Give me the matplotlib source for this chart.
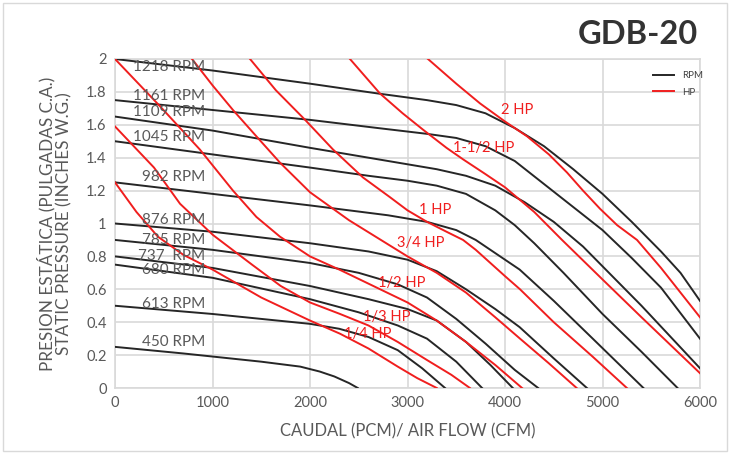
import matplotlib
matplotlib.use("Agg")
import matplotlib.pyplot as plt
from matplotlib.patches import Rectangle

plt.rcParams['font.family'] = ['Lato', 'DejaVu Sans']

# RPM curves (black): airflow CFM / static pressure in. w.g.
rpm_1218_x = [0, 1000, 2000, 2700, 3200, 3500, 3800, 4100, 4400, 4700, 5000, 5300, 5600, 5800, 6000]
rpm_1218_y = [2.00, 1.93, 1.85, 1.79, 1.75, 1.72, 1.67, 1.58, 1.47, 1.33, 1.18, 1.01, 0.83, 0.70, 0.53]
rpm_1161_x = [0, 1000, 2000, 2700, 3200, 3500, 3800, 4100, 4400, 4700, 5000, 5300, 5600, 6000]
rpm_1161_y = [1.75, 1.69, 1.63, 1.58, 1.545, 1.52, 1.47, 1.38, 1.24, 1.10, 0.96, 0.79, 0.61, 0.30]
rpm_1109_x = [0, 1000, 2000, 2800, 3300, 3600, 3900, 4200, 4500, 4800, 5100, 5400, 5700, 6000]
rpm_1109_y = [1.65, 1.565, 1.46, 1.38, 1.33, 1.29, 1.23, 1.13, 1.01, 0.86, 0.68, 0.50, 0.31, 0.12]
rpm_1045_x = [0, 1000, 2000, 2600, 3000, 3300, 3600, 3900, 4100, 4300, 4600, 5000, 5400, 5770]
rpm_1045_y = [1.50, 1.42, 1.34, 1.29, 1.26, 1.23, 1.18, 1.08, 0.99, 0.88, 0.70, 0.45, 0.22, 0.0]
rpm_982_x = [0, 1000, 2000, 2800, 3200, 3500, 3700, 3900, 4150, 4500, 4900, 5420]
rpm_982_y = [1.25, 1.18, 1.11, 1.05, 1.01, 0.96, 0.90, 0.82, 0.72, 0.53, 0.30, 0.0]
rpm_876_x = [0, 1000, 2000, 2600, 3000, 3300, 3600, 3900, 4150, 4500, 4840]
rpm_876_y = [1.00, 0.95, 0.88, 0.83, 0.78, 0.71, 0.60, 0.48, 0.37, 0.18, 0.0]
rpm_785_x = [0, 1000, 2000, 2500, 2900, 3200, 3500, 3800, 4100, 4340]
rpm_785_y = [0.90, 0.84, 0.76, 0.70, 0.63, 0.55, 0.42, 0.27, 0.11, 0.0]
rpm_737_x = [0, 1000, 2000, 2600, 3000, 3300, 3600, 3850, 4080]
rpm_737_y = [0.80, 0.73, 0.62, 0.54, 0.48, 0.41, 0.28, 0.14, 0.0]
rpm_680_x = [0, 1000, 2000, 2500, 2900, 3200, 3500, 3765]
rpm_680_y = [0.75, 0.67, 0.54, 0.46, 0.38, 0.30, 0.16, 0.0]
rpm_613_x = [0, 1000, 2000, 2300, 2600, 2900, 3150, 3385]
rpm_613_y = [0.50, 0.45, 0.39, 0.36, 0.31, 0.23, 0.12, 0.0]
rpm_450_x = [0, 700, 1500, 1900, 2100, 2250, 2400, 2490]
rpm_450_y = [0.25, 0.21, 0.16, 0.13, 0.10, 0.07, 0.03, 0.0]

# HP curves (red)
hp_2_x = [3210, 3500, 3744, 4000, 4226, 4450, 4636, 4800, 4974, 5150, 5354, 5600, 5800, 6000]
hp_2_y = [2.0, 1.85, 1.73, 1.62, 1.53, 1.42, 1.31, 1.20, 1.09, 0.99, 0.90, 0.73, 0.58, 0.43]
hp_1_5_x = [2410, 2718, 2950, 3160, 3400, 3570, 3800, 4000, 4300, 4585, 5000, 5400, 6000]
hp_1_5_y = [2.0, 1.79, 1.67, 1.57, 1.46, 1.39, 1.30, 1.22, 1.07, 0.90, 0.66, 0.43, 0.09]
hp_1_x = [1385, 1650, 1950, 2236, 2543, 2820, 3000, 3200, 3400, 3570, 3700, 3850, 4000, 4154, 4500, 4900, 5250]
hp_1_y = [2.0, 1.81, 1.63, 1.45, 1.28, 1.16, 1.08, 1.01, 0.95, 0.90, 0.84, 0.76, 0.68, 0.60, 0.40, 0.19, 0.0]
hp_3_4_x = [790, 1000, 1210, 1450, 1692, 2000, 2400, 2700, 3000, 3300, 3600, 3900, 4154, 4450, 4735]
hp_3_4_y = [2.0, 1.84, 1.69, 1.53, 1.37, 1.19, 1.02, 0.91, 0.80, 0.70, 0.58, 0.43, 0.30, 0.15, 0.0]
hp_1_2_x = [0, 450, 870, 1210, 1450, 1692, 2000, 2300, 2650, 3000, 3300, 3600, 3900, 4175]
hp_1_2_y = [2.0, 1.72, 1.45, 1.20, 1.04, 0.92, 0.80, 0.72, 0.62, 0.52, 0.41, 0.28, 0.14, 0.0]
hp_1_3_x = [0, 400, 667, 1005, 1405, 1700, 2000, 2308, 2600, 2900, 3200, 3450, 3640]
hp_1_3_y = [1.59, 1.34, 1.12, 0.93, 0.75, 0.62, 0.52, 0.45, 0.38, 0.28, 0.17, 0.08, 0.0]
hp_1_4_x = [0, 220, 440, 700, 1000, 1500, 2000, 2308, 2600, 2900, 3100, 3300]
hp_1_4_y = [1.25, 1.07, 0.92, 0.81, 0.72, 0.55, 0.41, 0.33, 0.24, 0.13, 0.06, 0.0]

rpm_curves = [(rpm_1218_x, rpm_1218_y), (rpm_1161_x, rpm_1161_y), (rpm_1109_x, rpm_1109_y),
              (rpm_1045_x, rpm_1045_y), (rpm_982_x, rpm_982_y), (rpm_876_x, rpm_876_y),
              (rpm_785_x, rpm_785_y), (rpm_737_x, rpm_737_y), (rpm_680_x, rpm_680_y),
              (rpm_613_x, rpm_613_y), (rpm_450_x, rpm_450_y)]
hp_curves = [(hp_2_x, hp_2_y), (hp_1_5_x, hp_1_5_y), (hp_1_x, hp_1_y), (hp_3_4_x, hp_3_4_y),
             (hp_1_2_x, hp_1_2_y), (hp_1_3_x, hp_1_3_y), (hp_1_4_x, hp_1_4_y)]

# labels
rpm_labels = ["1218 RPM", "1161 RPM", "1109 RPM", "1045 RPM", "982 RPM", "876 RPM",
              "785 RPM", "737  RPM", "680 RPM", "613 RPM", "450 RPM"]
rpm_label_y = [1.95, 1.775, 1.68, 1.525, 1.28, 1.02, 0.90, 0.80, 0.717, 0.51, 0.28]
hp_labels = ["2 HP", "1-1/2 HP", "1 HP", "3/4 HP", "1/2 HP", "1/3 HP", "1/4 HP"]
hp_label_x = [4123, 3785, 3282, 3138, 2944, 2790, 2595]
hp_label_y = [1.69, 1.46, 1.08, 0.88, 0.64, 0.43, 0.33]

black = '#262626'
red = '#f01e1e'
grey = '#595959'

fig = plt.figure(figsize=(7.3, 4.54), dpi=100)
ax = fig.add_axes([115/730, 66/454, 585/730, 329/454])

for i, (x, y) in enumerate(rpm_curves):
    ax.plot(x, y, color=black, lw=1.4, label='RPM' if i == 0 else None, zorder=3)
for i, (x, y) in enumerate(hp_curves):
    ax.plot(x, y, color=red, lw=1.4, label='HP' if i == 0 else None, zorder=3)

for lab, yy in zip(rpm_labels, rpm_label_y):
    ax.text(923, yy, lab, ha='right', va='center', fontsize=11, color=grey, zorder=4)
for lab, xx, yy in zip(hp_labels, hp_label_x, hp_label_y):
    ax.text(xx, yy, lab, ha='center', va='center', fontsize=10.5, color=red, zorder=4)

ax.set_xlim(0, 6000)
ax.set_ylim(0, 2)
ax.set_xticks(range(0, 6001, 1000))
ax.set_yticks([0, 0.2, 0.4, 0.6, 0.8, 1, 1.2, 1.4, 1.6, 1.8, 2])
ax.set_yticklabels(['0', '0.2', '0.4', '0.6', '0.8', '1', '1.2', '1.4', '1.6', '1.8', '2'])
ax.grid(True, color='#d9d9d9', lw=1.2)
ax.set_axisbelow(True)
for s in ax.spines.values():
    s.set_color('#d9d9d9')
    s.set_linewidth(1.2)
ax.tick_params(length=0, labelsize=10.5, labelcolor=grey, pad=6)

ax.set_xlabel('CAUDAL (PCM)/ AIR FLOW (CFM)', fontsize=12, color=grey, labelpad=9)
ax.set_ylabel('PRESION ESTÁTICA (PULGADAS C.A.)\nSTATIC PRESSURE (INCHES W.G.)',
              fontsize=12.3, color=grey, labelpad=10, linespacing=1.05)

leg = ax.legend(loc='upper right', bbox_to_anchor=(1.02, 0.99), frameon=False, fontsize=7,
                handlelength=2.2, labelspacing=0.8, labelcolor='#404040')

fig.text(698/730, 1 - 34/454, 'GDB-20', ha='right', va='center', fontsize=23.5,
         fontweight='bold', color='#333333')

fig.patches.append(Rectangle((3/730, 3/454), 724/730, 448/454, transform=fig.transFigure,
                             fill=False, edgecolor='#d9d9d9', lw=1))

fig.savefig('out.png', dpi=100)
